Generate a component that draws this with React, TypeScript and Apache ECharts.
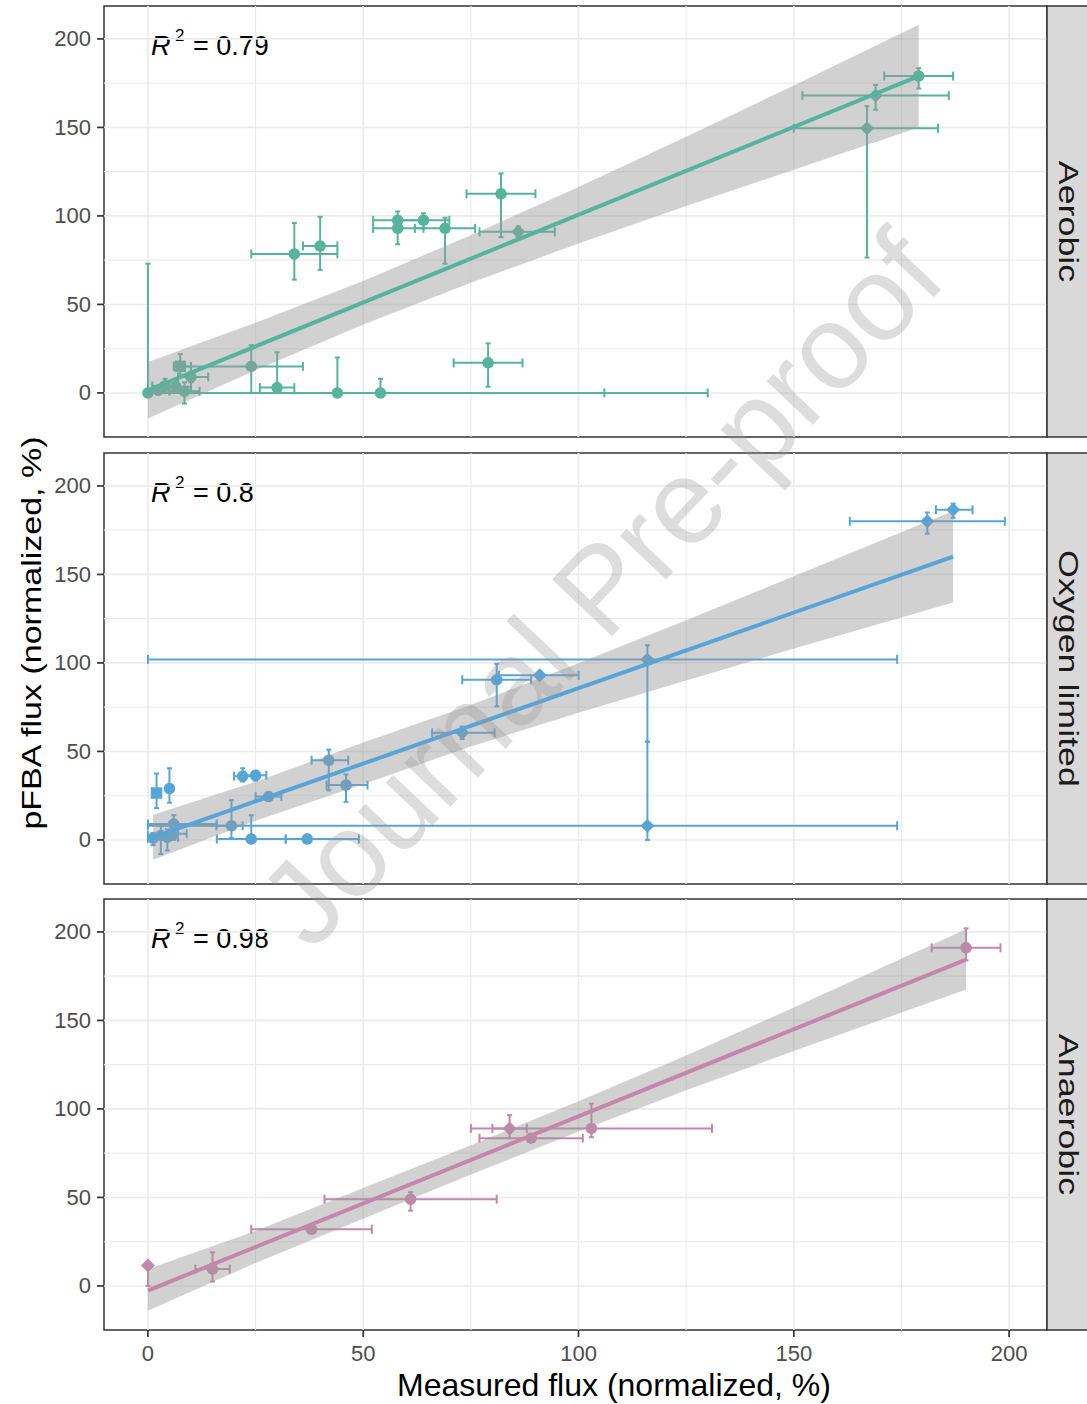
import React, { useEffect, useRef } from "react";
import * as echarts from "echarts";

const panelNames = ["Aerobic", "Oxygen limited", "Anaerobic"];
const panelColors = ["#56B49C", "#57A5D8", "#C487A8"];
const r2Values = ["0.79", "0.8", "0.98"];
const tickValues = [0, 50, 100, 150, 200];
const gridBreaks = [0, 25, 50, 75, 100, 125, 150, 175, 200];
const xTitle = "Measured flux (normalized, %)";
const yTitle = "pFBA flux (normalized, %)";
const watermark = "Journal Pre-proof";

// [x, y, xLow, xHigh, yLow, yHigh, shape]  shape: c circle, s square, d diamond
const aerobicPoints: any[] = [
  [0, 0, 0, 0, 0, 73, "c"],
  [2.4, 1.5, 0, 5, 0, 4, "c"],
  [4, 4, 1, 7, 1, 8, "c"],
  [6.5, 3.5, 3, 10, 0, 7, "c"],
  [7.5, 15, 6, 10, 10, 22, "s"],
  [8.5, 1, 5, 12, -6, 6, "c"],
  [10, 9, 7, 14, 6, 12, "c"],
  [24, 15, 8, 36, 0, 27, "c"],
  [30, 3, 26, 34, 0, 23, "c"],
  [44, 0, 0, 106, 0, 20, "c"],
  [54, 0, 0, 130, 0, 8, "c"],
  [34, 78.5, 24, 44, 64, 96, "c"],
  [40, 83, 36, 44, 69.5, 99.5, "c"],
  [58, 97.5, 52.3, 63.7, 93, 102.5, "c"],
  [58, 93, 52.3, 64, 84, 98, "c"],
  [64, 97.5, 58, 70, 93, 101.5, "c"],
  [69, 93, 62, 76, 73, 99, "c"],
  [82, 112.5, 74, 90, 88, 124, "c"],
  [86, 91, 77, 94.5, 88, 94, "d"],
  [79, 17, 71, 87, 3.5, 28, "c"],
  [167, 149.5, 150, 183.5, 76.5, 162, "d"],
  [169, 168, 152, 186, 160, 174, "d"],
  [179, 179, 171, 187, 172, 183.5, "c"],
];
const oxygenPoints: any[] = [
  [1.2, 1, 0, 3, -3, 4, "c"],
  [3, 2.5, 0, 6, -8, 8, "c"],
  [4.5, 1.5, 2, 7, -6, 6, "c"],
  [6, 3.5, 3, 9, 0, 8, "c"],
  [6, 9, 0, 16, 3, 14, "c"],
  [2, 26.5, 1, 3, 18, 37.5, "s"],
  [5, 29, 4.5, 5.5, 21, 40.5, "c"],
  [19.4, 8, 15.9, 22, 1, 22.5, "c"],
  [24, 0.5, 16, 32, 0, 14, "c"],
  [37, 0.5, 32, 49, 0, 3, "c"],
  [22, 36, 20, 24.5, 33, 40.5, "c"],
  [25, 36.5, 22.5, 27.5, 33.5, 39, "c"],
  [28, 24.5, 25, 31, 22, 27, "c"],
  [42, 45, 38, 46.5, 28, 51, "c"],
  [46, 31, 41.5, 51, 21.5, 37, "c"],
  [73, 60.5, 66, 80.5, 57, 64, "d"],
  [81, 90.5, 73, 89, 75.5, 99.5, "c"],
  [91, 93, 81.5, 100, 91, 95, "d"],
  [116, 102, 0, 174, 55.5, 110, "d"],
  [116, 8, 0, 174, 0, 55.5, "d"],
  [181, 180, 163, 199, 173, 185, "d"],
  [187, 186.5, 183, 191.5, 182, 190, "d"],
];
const anaerobicPoints: any[] = [
  [0, 11.5, 0, 0, 0, 11.5, "d"],
  [15, 9.5, 11, 19, 2.5, 19, "c"],
  [38, 32, 24, 52, 30, 34, "c"],
  [61, 49, 41, 81, 42.5, 53, "c"],
  [84, 89, 80, 88, 83.5, 96.5, "d"],
  [89, 83.5, 77, 101, 82, 85, "c"],
  [103, 89, 75, 131, 84, 103, "c"],
  [190, 191, 182, 198, 184, 202, "c"],
];

// fitted lines (endpoints)
const aerobicFit = [[0, 1.5], [179, 179]];
const oxygenFit = [[1.2, 1.5], [187, 160]];
const anaerobicFit = [[0, -2.6], [190, 184.4]];

// confidence bands
const aerobicBandX = [0, 25, 50, 75, 100, 125, 150, 179];
const aerobicBandLo = [-14.5, 12.8, 38.7, 62.3, 84.4, 105.6, 126.1, 150];
const aerobicBandHi = [17.5, 39.6, 63.3, 89.1, 116.4, 144.8, 173.7, 208];
const oxygenBandX = [1.2, 25, 50, 75, 100, 125, 150, 187];
const oxygenBandLo = [-11.2, 10.8, 31.5, 52.8, 71.8, 90.1, 108.1, 134.1];
const oxygenBandHi = [14.2, 32.8, 55, 76.2, 99.8, 124.1, 148.9, 185.9];
const anaerobicBandX = [0, 25, 50, 75, 100, 125, 150, 190];
const anaerobicBandLo = [-14, 13, 38, 62.9, 87.3, 110.6, 132.7, 167.5];
const anaerobicBandHi = [9.5, 31, 55.3, 79.5, 104.3, 130.2, 157.3, 201.5];

const panels = [
  { points: aerobicPoints, fit: aerobicFit, bx: aerobicBandX, blo: aerobicBandLo, bhi: aerobicBandHi },
  { points: oxygenPoints, fit: oxygenFit, bx: oxygenBandX, blo: oxygenBandLo, bhi: oxygenBandHi },
  { points: anaerobicPoints, fit: anaerobicFit, bx: anaerobicBandX, blo: anaerobicBandLo, bhi: anaerobicBandHi },
];

const GRID_LEFT = 104;
const GRID_W = 943;
const GRID_H = 431;
const GRID_TOPS = [6, 453, 899];
const FONT = "'Liberation Sans', Arial, sans-serif";

function buildOption() {
  const grids: any[] = [];
  const xAxes: any[] = [];
  const yAxes: any[] = [];
  const series: any[] = [];
  const graphics: any[] = [];

  panels.forEach((p, i) => {
    const color = panelColors[i];
    const top = GRID_TOPS[i];
    const isBottom = i === panels.length - 1;
    grids.push({
      left: GRID_LEFT, top, width: GRID_W, height: GRID_H,
      show: true, backgroundColor: "#ffffff", borderColor: "#333333", borderWidth: 1.5,
    });
    xAxes.push({
      type: "value", gridIndex: i, min: -10.2, max: 208.8, position: "bottom",
      axisLine: { show: false, onZero: false }, splitLine: { show: false },
      axisTick: { show: false },
      axisLabel: { show: isBottom, customValues: tickValues, fontSize: 22, color: "#4d4d4d", margin: 12, fontFamily: FONT },
    });
    yAxes.push({
      type: "value", gridIndex: i, min: -24.9, max: 218.6, position: "left",
      axisLine: { show: false, onZero: false }, splitLine: { show: false },
      axisTick: { show: false },
      axisLabel: { show: true, customValues: tickValues, fontSize: 22, color: "#4d4d4d", margin: 13, fontFamily: FONT },
    });

    // grid lines
    const gridData: any[] = [];
    gridBreaks.forEach((v) => { gridData.push([v, 0]); gridData.push([v, 1]); });
    series.push({
      type: "custom", xAxisIndex: i, yAxisIndex: i, z: 1, silent: true,
      data: gridData,
      renderItem: (params: any, api: any) => {
        const v = api.value(0);
        const kind = api.value(1);
        const cs = params.coordSys;
        const style = { stroke: "#ebebeb", lineWidth: v % 50 === 0 ? 1.6 : 1.1 };
        if (kind === 0) {
          const pt = api.coord([v, 0]);
          return { type: "line", shape: { x1: pt[0], y1: cs.y, x2: pt[0], y2: cs.y + cs.height }, style };
        }
        const pt = api.coord([0, v]);
        return { type: "line", shape: { x1: cs.x, y1: pt[1], x2: cs.x + cs.width, y2: pt[1] }, style };
      },
    });

    // axis ticks (outside the panel)
    const tickData: any[] = [];
    tickValues.forEach((v) => {
      tickData.push([v, 1]);
      if (isBottom) tickData.push([v, 0]);
    });
    series.push({
      type: "custom", xAxisIndex: i, yAxisIndex: i, z: 6, silent: true, clip: false,
      data: tickData,
      renderItem: (params: any, api: any) => {
        const v = api.value(0);
        const kind = api.value(1);
        const cs = params.coordSys;
        const style = { stroke: "#333333", lineWidth: 1.7 };
        if (kind === 0) {
          const pt = api.coord([v, 0]);
          const yb = cs.y + cs.height;
          return { type: "line", shape: { x1: pt[0], y1: yb, x2: pt[0], y2: yb + 7 }, style };
        }
        const pt = api.coord([0, v]);
        return { type: "line", shape: { x1: cs.x - 7, y1: pt[1], x2: cs.x, y2: pt[1] }, style };
      },
    });

    // error bars
    series.push({
      type: "custom", xAxisIndex: i, yAxisIndex: i, z: 2, silent: true,
      data: p.points.map((d: any[]) => d.slice(0, 6)),
      renderItem: (params: any, api: any) => {
        const x = api.value(0), y = api.value(1);
        const xl = api.value(2), xh = api.value(3), yl = api.value(4), yh = api.value(5);
        const style = { stroke: color, lineWidth: 2, fill: "none" };
        const children: any[] = [];
        if (xh > xl) {
          const a = api.coord([xl, y]);
          const b = api.coord([xh, y]);
          children.push({ type: "line", shape: { x1: a[0], y1: a[1], x2: b[0], y2: b[1] }, style });
          children.push({ type: "line", shape: { x1: a[0], y1: a[1] - 4.5, x2: a[0], y2: a[1] + 4.5 }, style });
          children.push({ type: "line", shape: { x1: b[0], y1: b[1] - 4.5, x2: b[0], y2: b[1] + 4.5 }, style });
        }
        if (yh > yl) {
          const a = api.coord([x, yl]);
          const b = api.coord([x, yh]);
          children.push({ type: "line", shape: { x1: a[0], y1: a[1], x2: b[0], y2: b[1] }, style });
          children.push({ type: "line", shape: { x1: a[0] - 2.5, y1: a[1], x2: a[0] + 2.5, y2: a[1] }, style });
          children.push({ type: "line", shape: { x1: b[0] - 2.5, y1: b[1], x2: b[0] + 2.5, y2: b[1] }, style });
        }
        return { type: "group", children };
      },
    });

    // points
    series.push({
      type: "scatter", xAxisIndex: i, yAxisIndex: i, z: 3, silent: true,
      itemStyle: { color, opacity: 1 },
      data: p.points.map((d: any[]) => ({
        value: [d[0], d[1]],
        symbol: d[6] === "s" ? "rect" : d[6] === "d" ? "diamond" : "circle",
        symbolSize: d[6] === "d" ? 14 : 11.5,
      })),
    });

    // confidence band
    series.push({
      type: "custom", xAxisIndex: i, yAxisIndex: i, z: 4, silent: true,
      data: [[p.bx[0], p.blo[0]]],
      renderItem: (params: any, api: any) => {
        const pts: number[][] = [];
        for (let k = 0; k < p.bx.length; k++) pts.push(api.coord([p.bx[k], p.bhi[k]]));
        for (let k = p.bx.length - 1; k >= 0; k--) pts.push(api.coord([p.bx[k], p.blo[k]]));
        return { type: "polygon", shape: { points: pts }, style: { fill: "rgba(153,153,153,0.45)" } };
      },
    });

    // fitted line
    series.push({
      type: "line", xAxisIndex: i, yAxisIndex: i, z: 5, silent: true,
      data: p.fit, symbol: "none",
      lineStyle: { color, width: 4 },
    });

    // R^2 label
    const ly = top + 40;
    graphics.push({
      type: "group", z: 50, children: [
        { type: "text", x: 151, y: ly, style: { text: "R", fontSize: 27, fontStyle: "italic", fontFamily: FONT, fill: "#000", verticalAlign: "middle" } },
        { type: "text", x: 175, y: ly - 11, style: { text: "2", fontSize: 17, fontFamily: FONT, fill: "#000", verticalAlign: "middle" } },
        { type: "text", x: 193, y: ly, style: { text: "= " + r2Values[i], fontSize: 27, fontFamily: FONT, fill: "#000", verticalAlign: "middle" } },
      ],
    });

    // strip
    graphics.push({
      type: "rect", z: 50,
      shape: { x: GRID_LEFT + GRID_W, y: top, width: 50, height: GRID_H },
      style: { fill: "#d9d9d9", stroke: "#333333", lineWidth: 1.5 },
    });
    graphics.push({
      type: "text", z: 51, x: 1069, y: top + GRID_H / 2, rotation: -Math.PI / 2, scaleX: 1.28,
      style: { text: panelNames[i], fontSize: 28, fontFamily: FONT, fill: "#1a1a1a", align: "center", verticalAlign: "middle" },
    });
  });

  graphics.push({
    type: "text", z: 60, x: 614, y: 1385,
    style: { text: xTitle, fontSize: 32, fontFamily: FONT, fill: "#000", align: "center", verticalAlign: "middle" },
  });
  graphics.push({
    type: "text", z: 60, x: 32, y: 633, rotation: Math.PI / 2, scaleX: 1.26,
    style: { text: yTitle, fontSize: 27, fontFamily: FONT, fill: "#000", align: "center", verticalAlign: "middle" },
  });
  graphics.push({
    type: "text", z: 100, x: 600, y: 588, rotation: (46.5 * Math.PI) / 180, silent: true,
    style: { text: watermark, fontSize: 120, fontFamily: FONT, fill: "rgba(150,150,150,0.32)", align: "center", verticalAlign: "middle" },
  });

  return {
    animation: false,
    backgroundColor: "#ffffff",
    textStyle: { fontFamily: FONT },
    grid: grids,
    xAxis: xAxes,
    yAxis: yAxes,
    series,
    graphic: graphics,
  };
}

export default function App() {
  const ref = useRef<HTMLDivElement>(null);
  useEffect(() => {
    if (!ref.current) return;
    const chart = echarts.init(ref.current, undefined, { renderer: "svg" });
    chart.setOption(buildOption() as any);
    return () => chart.dispose();
  }, []);
  return (
    <div
      ref={ref}
      style={{ position: "absolute", left: 0, top: 0, width: 1087, height: 1404, background: "#fff" }}
    />
  );
}
